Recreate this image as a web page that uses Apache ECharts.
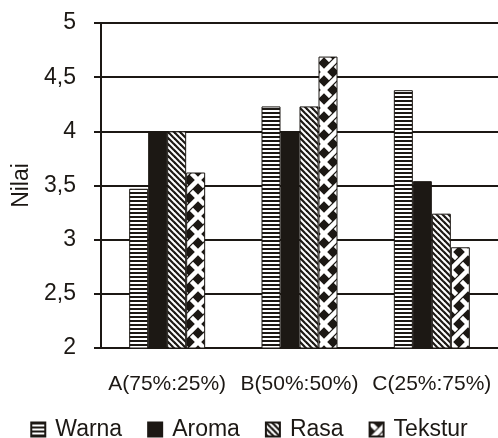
<!DOCTYPE html>
<html>
<head>
<meta charset="utf-8">
<script src="https://cdn.jsdelivr.net/npm/echarts@6/dist/echarts.min.js"></script>
<style>
  html, body { margin: 0; padding: 0; background: #fff; }
  #chart { width: 498px; height: 438px; }
</style>
</head>
<body>
<div id="chart"></div>
<script>
// Sample groups (ratio of the two ingredients)
const categories = ['A(75%:25%)', 'B(50%:50%)', 'C(25%:75%)'];
// Mean sensory scores per attribute
const warna   = [3.47, 4.23, 4.38];
const aroma   = [4.00, 4.00, 3.54];
const rasa    = [4.00, 4.23, 3.24];
const tekstur = [3.62, 4.69, 2.93];
const seriesNames = ['Warna', 'Aroma', 'Rasa', 'Tekstur'];
const yTicks = [2, 2.5, 3, 3.5, 4, 4.5, 5];

const INK = '#1c1814';

function makeTile(w, h, draw) {
  const c = document.createElement('canvas');
  c.width = w; c.height = h;
  const ctx = c.getContext('2d');
  draw(ctx, w, h);
  return { image: c, repeat: 'repeat' };
}

// horizontal stripes
const stripeFill = makeTile(4, 4, (ctx, w, h) => {
  ctx.fillStyle = '#fff'; ctx.fillRect(0, 0, w, h);
  ctx.fillStyle = INK; ctx.fillRect(0, 0, w, 2);
});

// diagonal hatching running down to the right
const hatchFill = makeTile(6, 6, (ctx, w, h) => {
  ctx.fillStyle = '#fff'; ctx.fillRect(0, 0, w, h);
  ctx.strokeStyle = INK; ctx.lineWidth = 2.2;
  for (let k = -1; k <= 1; k++) {
    ctx.beginPath();
    ctx.moveTo(k * w - 1, -1);
    ctx.lineTo(k * w + w + 1, h + 1);
    ctx.stroke();
  }
});

// woven diagonal bands over a dark ground
const weaveFill = makeTile(18, 18, (ctx, w, h) => {
  ctx.fillStyle = INK; ctx.fillRect(0, 0, w, h);
  ctx.lineCap = 'butt';
  ctx.strokeStyle = '#fff'; ctx.lineWidth = 4.5;
  ctx.beginPath(); ctx.moveTo(-2, -2); ctx.lineTo(w + 2, h + 2); ctx.stroke();
  // crossing band, edged in dark so it reads as passing over
  ctx.strokeStyle = INK; ctx.lineWidth = 7;
  ctx.beginPath(); ctx.moveTo(w * 0.3, h * 0.7); ctx.lineTo(w * 0.7, h * 0.3); ctx.stroke();
  ctx.strokeStyle = '#fff'; ctx.lineWidth = 4.5;
  ctx.beginPath(); ctx.moveTo(-2, h + 2); ctx.lineTo(w + 2, -2); ctx.stroke();
});

const fills = [stripeFill, INK, hatchFill, weaveFill];
const dataSets = [warna, aroma, rasa, tekstur];

const chart = echarts.init(document.getElementById('chart'), null, { renderer: 'canvas' });
chart.setOption({
  animation: false,
  textStyle: { fontFamily: 'Liberation Sans, Arial, sans-serif', color: INK },
  grid: { left: 101, top: 23, bottom: 90, width: 400, containLabel: false },
  legend: {
    top: 413,
    left: 'center',
    itemWidth: 14,
    itemHeight: 14,
    itemGap: 25,
    textStyle: { fontSize: 23, color: INK, padding: [0, 0, 0, 5] },
    icon: 'rect',
    data: seriesNames
  },
  xAxis: {
    type: 'category',
    data: categories,
    axisLine: { show: false },
    axisTick: { show: false },
    axisLabel: { fontSize: 21, color: INK, margin: 26, interval: 0, hideOverlap: false }
  },
  yAxis: {
    type: 'value',
    min: 2, max: 5, interval: 0.5,
    name: 'Nilai',
    nameLocation: 'middle',
    nameGap: 66,
    nameTextStyle: { fontSize: 23, color: INK },
    axisLine: { show: true, lineStyle: { color: INK, width: 2 } },
    axisTick: { show: true, length: 7, lineStyle: { color: INK, width: 2 } },
    axisLabel: {
      fontSize: 23, color: INK, margin: 25,
      formatter: v => yTicks.includes(v) ? String(v).replace('.', ',') : ''
    },
    splitLine: { show: true, lineStyle: { color: INK, width: 2 } }
  },
  series: seriesNames.map((name, i) => ({
    name,
    type: 'bar',
    data: dataSets[i],
    barWidth: 19,
    barGap: '0%',
    itemStyle: { color: fills[i], borderColor: INK, borderWidth: 1 }
  }))
});
</script>
</body>
</html>
